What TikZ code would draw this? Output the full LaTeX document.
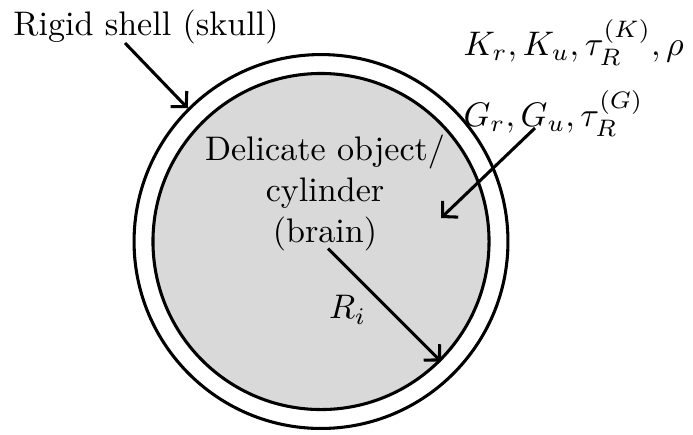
\documentclass[tikz,border=0pt]{standalone}
\usepackage{amsmath}
\usetikzlibrary{arrows.meta,positioning,calc}
\definecolor{brainfill}{HTML}{D9D9D9}
\tikzset{
  >={Straight Barb[length=3.2pt,width=6.6pt]},
  pointer/.style={->,line width=0.9pt},
  shell/.style={circle,draw,line width=0.9pt,inner sep=0pt},
  brain/.style={shell,fill=brainfill},
  params/.style={align=left,inner sep=0pt}
}

\begin{document}
\begin{tikzpicture}[x=0.2934pt,y=-0.2934pt]
  \useasboundingbox (0,0) rectangle (693,434);
  \node[shell,minimum size=109.7pt] (skull) at (321,241.5) {};
  \node[brain,minimum size=98.6pt] (brain) at (skull.center) {};
  \node[align=center] (brainlbl) at (325,193) {Delicate object/\\cylinder\\(brain)};
  \node[anchor=base] (shelllbl) at (146,35) {Rigid shell (skull)};
  \node[params,anchor=north west] (matprops) at (463,19)
    {$K_r, K_u, \tau_R^{(K)}, \rho$\\[6.5pt]$G_r, G_u, \tau_R^{(G)}$};
  \coordinate (shelltail) at (125,43);
  \coordinate (propstail) at (535,128);
  \coordinate (propshead) at (441,218);
  \draw[pointer] (shelltail) -- (skull.135);
  \draw[pointer] (propstail) -- (propshead);
  \draw[pointer,shorten <=2.9pt] (brain.center) -- node[pos=0.57,left=3pt] {$R_i$} (brain.-45);
\end{tikzpicture}
\end{document}
